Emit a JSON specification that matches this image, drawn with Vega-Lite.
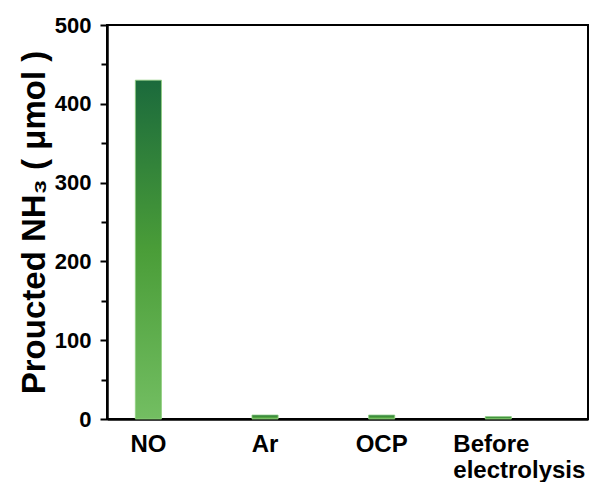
{
  "$schema": "https://vega.github.io/schema/vega-lite/v6.json",
  "width": 481,
  "height": 394,
  "autosize": "none",
  "padding": {"left": 107, "top": 25, "right": 4, "bottom": 63},
  "background": "white",
  "config": {
    "view": {"stroke": "black", "strokeWidth": 2},
    "font": "Liberation Sans"
  },
  "data": {
    "values": [
      {"condition": "NO", "nh3": 430},
      {"condition": "Ar", "nh3": 5},
      {"condition": "OCP", "nh3": 5},
      {"condition": "Before electrolysis", "nh3": 3}
    ]
  },
  "layer": [
    {
      "mark": {
        "type": "bar",
        "color": {
          "gradient": "linear",
          "x1": 0, "y1": 0, "x2": 0, "y2": 1,
          "stops": [
            {"offset": 0, "color": "#1b6a3c"},
            {"offset": 0.5, "color": "#4a9d38"},
            {"offset": 1, "color": "#73be62"}
          ]
        },
        "stroke": "#8fcf7f",
        "strokeWidth": 0.8
      },
      "encoding": {
        "x": {
          "field": "condition",
          "type": "nominal",
          "sort": null,
          "scale": {"paddingInner": 0.776, "paddingOuter": 0.45, "align": 0.27},
          "axis": {
            "title": null,
            "ticks": false,
            "domainColor": "black",
            "domainWidth": 2.5,
            "labelAngle": 0,
            "labelFont": "Liberation Sans",
            "labelFontWeight": "bold",
            "labelFontSize": 24,
            "labelColor": "black",
            "labelPadding": 13,
            "labelLineHeight": 26,
            "labelExpr": "datum.value == 'Before electrolysis' ? ['Before', 'electrolysis'] : datum.label",
            "labelAlign": {"condition": {"test": "datum.value == 'Before electrolysis'", "value": "left"}, "value": "center"},
            "labelOffset": {"condition": {"test": "datum.value == 'Before electrolysis'", "value": -45}, "value": 0}
          }
        },
        "y": {
          "field": "nh3",
          "type": "quantitative",
          "scale": {"domain": [0, 500], "nice": false},
          "axis": {
            "title": "Proucted NH₃ ( μmol )",
            "titleFont": "Liberation Sans",
            "titleFontWeight": "bold",
            "titleFontSize": 33,
            "titleColor": "black",
            "titlePadding": 3,
            "values": [0, 100, 200, 300, 400, 500],
            "grid": false,
            "domainColor": "black",
            "domainWidth": 2.5,
            "tickColor": "black",
            "tickWidth": 2,
            "tickSize": 7,
            "labelFont": "Liberation Sans",
            "labelFontWeight": "bold",
            "labelFontSize": 22,
            "labelColor": "black",
            "labelPadding": 9
          }
        }
      }
    },
    {
      "mark": {"type": "rule", "opacity": 0},
      "encoding": {
        "y": {
          "field": "nh3",
          "type": "quantitative",
          "axis": {
            "orient": "left",
            "title": null,
            "values": [50, 150, 250, 350, 450],
            "labels": false,
            "domain": false,
            "grid": false,
            "tickColor": "black",
            "tickWidth": 2,
            "tickSize": 6
          }
        }
      }
    }
  ],
  "resolve": {"axis": {"y": "independent"}}
}
